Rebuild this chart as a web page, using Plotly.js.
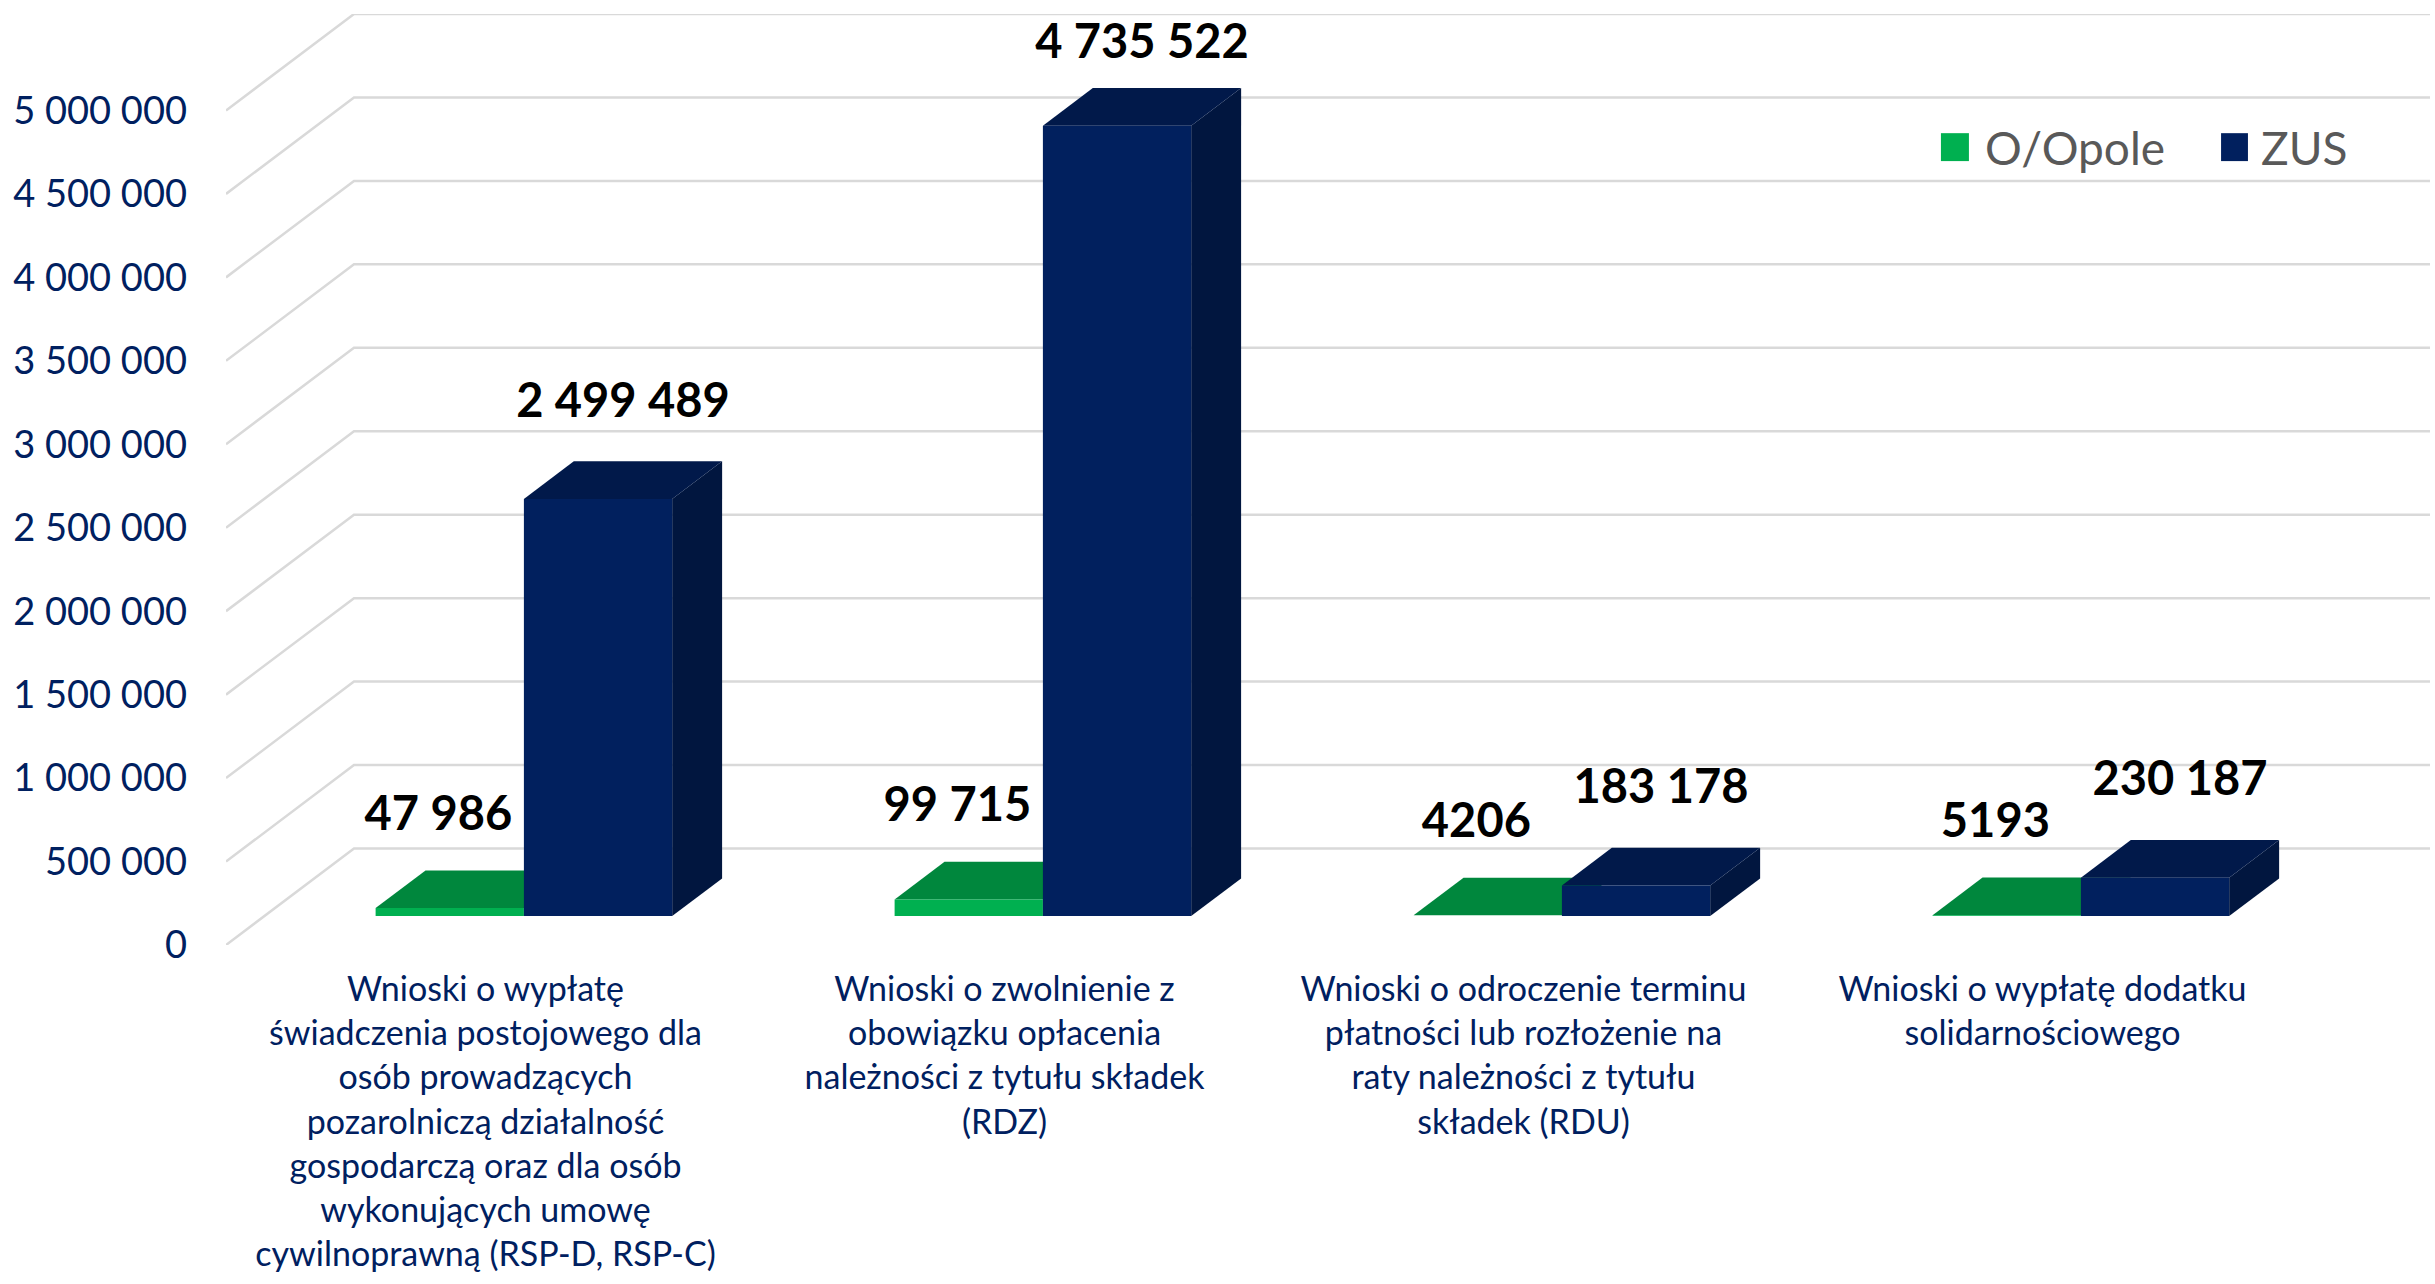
<!DOCTYPE html>
<html><head><meta charset="utf-8">
<script src="https://cdn.plot.ly/plotly-3.0.1.min.js"></script>
<style>html,body{margin:0;padding:0;background:#fff;}#chart{width:2435px;height:1284px;}</style>
</head><body><div id="chart"></div>
<script>
// ---------- data ----------
const categories = [
  'Wnioski o wypłatę<br>świadczenia postojowego dla<br>osób prowadzących<br>pozarolniczą działalność<br>gospodarczą oraz dla osób<br>wykonujących umowę<br>cywilnoprawną (RSP-D, RSP-C)',
  'Wnioski o zwolnienie z<br>obowiązku opłacenia<br>należności z tytułu składek<br>(RDZ)',
  'Wnioski o odroczenie terminu<br>płatności lub rozłożenie na<br>raty należności z tytułu<br>składek (RDU)',
  'Wnioski o wypłatę dodatku<br>solidarnościowego'
];
const seriesNames = ['O/Opole', 'ZUS'];
const opoleValues = [47986, 99715, 4206, 5193];
const zusValues = [2499489, 4735522, 183178, 230187];
const yTickValues = [0, 500000, 1000000, 1500000, 2000000, 2500000, 3000000, 3500000, 4000000, 4500000, 5000000];
const yTickLabels = ['0', '500 000', '1 000 000', '1 500 000', '2 000 000', '2 500 000', '3 000 000', '3 500 000', '4 000 000', '4 500 000', '5 000 000'];

// ---------- style / geometry ----------
const FONT = 'Lato, "Open Sans", sans-serif';
const NAVY_TEXT = '#002060';
const BAR_W = 1 / 3.5;          // gap width 150%
const DEPTH_X = 0.2466;         // oblique depth vector (category units)
const DEPTH_Y = 578000;         // oblique depth vector (value units)
const F0 = 0.30, F1 = 0.69;     // bar depth span (fraction of floor depth)
const FM = (F0 + F1) / 2;
const styles = [
  {front: '#00B050', top: '#00873D', side: '#006B30', labelDx: -0.07, labelDy: 425000},
  {front: '#01205E', top: '#01194A', side: '#01163F', labelDx: 0.0, labelDy: 450000}
];
const Y_MAX = yTickValues[yTickValues.length - 1];
const LABEL_CEIL = Y_MAX + DEPTH_Y - 195000;   // keep labels inside the chart area

function fmt(v) {
  if (v < 10000) return String(v);
  return String(v).replace(/\B(?=(\d{3})+(?!\d))/g, ' ');
}

const traces = [];

// back wall gridlines + left wall diagonals
const gx = [], gy = [];
yTickValues.forEach(v => {
  gx.push(-0.5, -0.5 + DEPTH_X, 3.5 + DEPTH_X, null);
  gy.push(v, v + DEPTH_Y, v + DEPTH_Y, null);
});
traces.push({type: 'scatter', mode: 'lines', x: gx, y: gy, hoverinfo: 'skip', showlegend: false,
  line: {color: '#D9D9D9', width: 2.5}});

function poly(xs, ys, color) {
  traces.push({type: 'scatter', mode: 'lines', x: xs.concat([xs[0]]), y: ys.concat([ys[0]]),
    fill: 'toself', fillcolor: color, line: {width: 0, color: color},
    hoverinfo: 'skip', showlegend: false});
}

const allSeries = [opoleValues, zusValues];
const labelX = [[], []], labelY = [[], []], labelT = [[], []];
categories.forEach((c, i) => {
  allSeries.forEach((vals, s) => {
    const v = vals[i];
    const st = styles[s];
    const x0 = i - BAR_W + s * BAR_W, x1 = x0 + BAR_W;
    const ax = F0 * DEPTH_X, bx = F1 * DEPTH_X, ay = F0 * DEPTH_Y, by = F1 * DEPTH_Y;
    // side face
    poly([x1 + ax, x1 + bx, x1 + bx, x1 + ax], [ay, by, v + by, v + ay], st.side);
    // top face
    poly([x0 + ax, x1 + ax, x1 + bx, x0 + bx], [v + ay, v + ay, v + by, v + by], st.top);
    // front face
    poly([x0 + ax, x1 + ax, x1 + ax, x0 + ax], [ay, ay, v + ay, v + ay], st.front);
    labelX[s].push((x0 + x1) / 2 + FM * DEPTH_X + st.labelDx);
    labelY[s].push(Math.min(v + FM * DEPTH_Y + st.labelDy, LABEL_CEIL));
    labelT[s].push(fmt(v));
  });
});

[0, 1].forEach(s => {
  traces.push({type: 'scatter', mode: 'text', x: labelX[s], y: labelY[s], text: labelT[s],
    textposition: 'middle center', hoverinfo: 'skip', showlegend: false, cliponaxis: false,
    textfont: {family: FONT, size: 47, color: '#000000', weight: 'bold'}});
});

// legend (drawn as shapes + text)
const legendShapes = [
  {type: 'rect', xref: 'paper', yref: 'paper', x0: 0.7781, x1: 0.7908, y0: 0.842, y1: 0.872, fillcolor: styles[0].front, line: {width: 0}},
  {type: 'rect', xref: 'paper', yref: 'paper', x0: 0.9052, x1: 0.9174, y0: 0.842, y1: 0.872, fillcolor: styles[1].front, line: {width: 0}}
];
const legendAnn = [
  {xref: 'paper', yref: 'paper', x: 0.7972, y: 0.857, xanchor: 'left', yanchor: 'middle', text: seriesNames[0], showarrow: false,
    font: {family: FONT, size: 46, color: '#595959'}},
  {xref: 'paper', yref: 'paper', x: 0.9224, y: 0.857, xanchor: 'left', yanchor: 'middle', text: seriesNames[1], showarrow: false,
    font: {family: FONT, size: 46, color: '#595959'}}
];

const layout = {
  width: 2435, height: 1284,
  margin: {l: 226, r: 5, t: 14, b: 339, autoexpand: false},
  paper_bgcolor: '#ffffff', plot_bgcolor: '#ffffff',
  showlegend: false,
  xaxis: {range: [-0.5, 3.5 + DEPTH_X], tickvals: [0, 1, 2, 3], ticktext: categories, tickangle: 0,
    showgrid: false, zeroline: false, showline: false, ticks: '', ticklabelstandoff: 21,
    tickfont: {family: FONT, size: 34, color: NAVY_TEXT}, fixedrange: true},
  yaxis: {range: [0, Y_MAX + DEPTH_Y], tickvals: yTickValues, ticktext: yTickLabels,
    showgrid: false, zeroline: false, showline: false, ticks: '', ticklabelstandoff: 38,
    tickfont: {family: FONT, size: 38, color: NAVY_TEXT}, fixedrange: true},
  shapes: legendShapes,
  annotations: legendAnn
};

Plotly.newPlot('chart', traces, layout, {staticPlot: true, displayModeBar: false});
</script>
</body></html>
